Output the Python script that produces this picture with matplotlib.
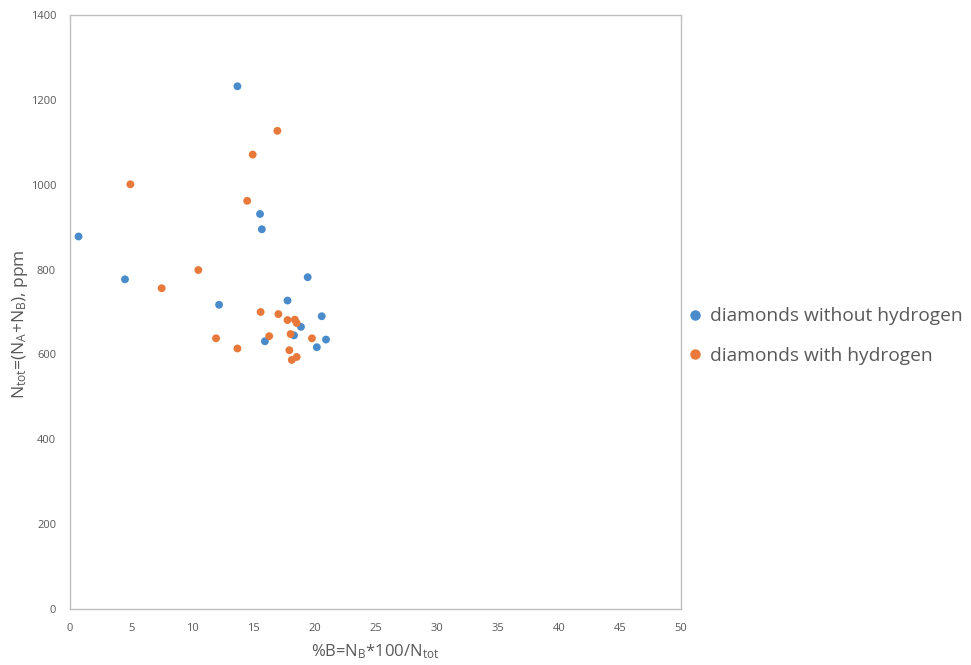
import matplotlib
matplotlib.use("Agg")
import matplotlib.pyplot as plt
from matplotlib.lines import Line2D

plt.rcParams['font.family'] = ['Open Sans', 'DejaVu Sans']
plt.rcParams['mathtext.default'] = 'regular'

# diamonds without hydrogen
blue_x = [13.7, 0.7, 4.5, 15.55, 15.7, 12.2, 19.45, 17.8, 20.6, 18.9, 18.33, 15.95, 20.2, 20.95]
blue_y = [1232, 878, 777, 931, 895, 717, 782, 727, 690, 665, 645, 631, 617, 635]
# diamonds with hydrogen
orange_x = [16.97, 14.95, 4.94, 14.5, 10.5, 7.5, 15.6, 17.05, 17.8, 18.4, 18.55, 16.3, 18.05,
            11.95, 19.8, 13.7, 17.95, 18.15, 18.55]
orange_y = [1127, 1071, 1001, 962, 799, 756, 700, 695, 681, 682, 674, 643, 648,
            638, 638, 614, 610, 587, 594]

x_ticks = [0, 5, 10, 15, 20, 25, 30, 35, 40, 45, 50]
y_ticks = [0, 200, 400, 600, 800, 1000, 1200, 1400]

BLUE = '#4A8BCB'
ORANGE = '#E8793A'
GRAY = '#595959'

fig = plt.figure(figsize=(9.71, 6.65), dpi=100)
ax = fig.add_axes([70/971, 1 - 609/665, (681-70)/971, (609-15)/665])

ax.scatter(blue_x, blue_y, s=32, color=BLUE, edgecolors='none', zorder=3)
ax.scatter(orange_x, orange_y, s=32, color=ORANGE, edgecolors='none', zorder=3)

ax.set_xlim(0, 50)
ax.set_ylim(0, 1400)
ax.set_xticks(x_ticks)
ax.set_yticks(y_ticks)
ax.tick_params(length=0, labelsize=8, labelcolor=GRAY, pad=10)
for s in ax.spines.values():
    s.set_color('#BFBFBF')
    s.set_linewidth(1)

ax.set_xlabel('%B=N$_B$*100/N$_{tot}$', fontsize=12, color=GRAY, labelpad=6)
ax.set_ylabel('N$_{tot}$=(N$_A$+N$_B$), ppm', fontsize=12.5, color=GRAY)
ax.yaxis.set_label_coords(-0.066, 0.48)

handles = [Line2D([], [], marker='o', linestyle='none', color=BLUE, markersize=6.5),
           Line2D([], [], marker='o', linestyle='none', color=ORANGE, markersize=6.5)]
fig.legend(handles, ['diamonds without hydrogen', 'diamonds with hydrogen'],
           loc='center left', bbox_to_anchor=(686/971, 1 - 336/665), frameon=False,
           fontsize=13.8, labelcolor=GRAY, handletextpad=0.35, labelspacing=1.1,
           handlelength=0.9, borderaxespad=0, borderpad=0)

fig.savefig('out.png', dpi=100)
